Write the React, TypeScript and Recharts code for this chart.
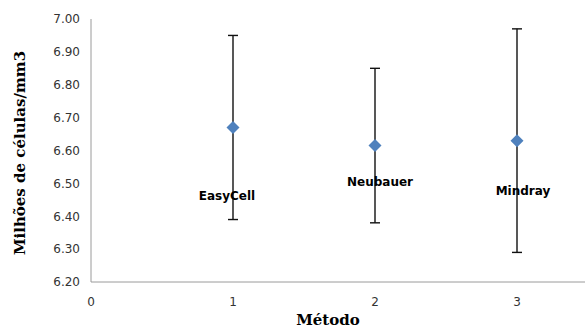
import { ScatterChart, Scatter, XAxis, YAxis, ErrorBar } from 'recharts';

// values
const methods = ['EasyCell', 'Neubauer', 'Mindray'];
const methodX = [1, 2, 3];
const means = [6.67, 6.615, 6.63];
const errors = [0.28, 0.235, 0.34];
const xTicks = [0, 1, 2, 3];
const yTicks = [6.2, 6.3, 6.4, 6.5, 6.6, 6.7, 6.8, 6.9, 7.0];

// where each data label sits relative to its marker (px)
const labelOffsets: Record<string, [number, number]> = {
  EasyCell: [-6, 69],
  Neubauer: [5, 36],
  Mindray: [6, 50],
};

const data = methods.map((name, i) => ({
  name,
  x: methodX[i],
  y: means[i],
  err: errors[i],
}));

const Diamond = (props: any) => {
  const { cx, cy, payload } = props;
  const r = 6.5;
  const [dx, dy] = labelOffsets[payload?.name] ?? [0, 0];
  return (
    <g>
      <polygon
        points={`${cx},${cy - r} ${cx + r},${cy} ${cx},${cy + r} ${cx - r},${cy}`}
        fill="#4F81BD"
      />
      <text
        x={cx + dx}
        y={cy + dy}
        textAnchor="middle"
        dominantBaseline="central"
        fontFamily="DejaVu Sans"
        fontWeight="bold"
        fontSize={12}
        fill="#000"
      >
        {payload?.name}
      </text>
    </g>
  );
};

const tickStyle = { fontFamily: 'DejaVu Sans', fontSize: 12, fill: '#333' };
const titleFont = { fontFamily: 'DejaVu Serif', fontWeight: 'bold' as const, fontSize: 15, fill: '#000' };

export default function App() {
  return (
    <div
      style={{
        position: 'absolute',
        left: 0,
        top: 0,
        width: 585,
        height: 329,
        overflow: 'hidden',
        background: '#fff',
      }}
    >
      <ScatterChart width={588} height={329} margin={{ top: 19, right: 0, bottom: 0, left: 0 }}>
        <XAxis
          type="number"
          dataKey="x"
          domain={[0, 3.5]}
          ticks={xTicks}
          allowDataOverflow
          height={47}
          stroke="#9a9a9a"
          tickLine={false}
          tickMargin={9}
          tick={tickStyle}
          label={{
            content: () => (
              <text x={328} y={325} textAnchor="middle" {...titleFont}>
                Método
              </text>
            ),
          }}
        />
        <YAxis
          type="number"
          dataKey="y"
          domain={[6.2, 7.0]}
          ticks={yTicks}
          allowDataOverflow
          width={91}
          stroke="#9a9a9a"
          tickLine={false}
          tickMargin={5}
          tick={tickStyle}
          tickFormatter={(v: number) => v.toFixed(2)}
          label={{
            content: () => (
              <text
                x={20}
                y={153}
                transform="rotate(-90 20 153)"
                textAnchor="middle"
                dominantBaseline="central"
                {...titleFont}
              >
                Milhões de células/mm3
              </text>
            ),
          }}
        />
        <Scatter data={data} shape={<Diamond />} isAnimationActive={false}>
          <ErrorBar dataKey="err" direction="y" width={5} stroke="#111" strokeWidth={1.4} />
        </Scatter>
      </ScatterChart>
    </div>
  );
}
